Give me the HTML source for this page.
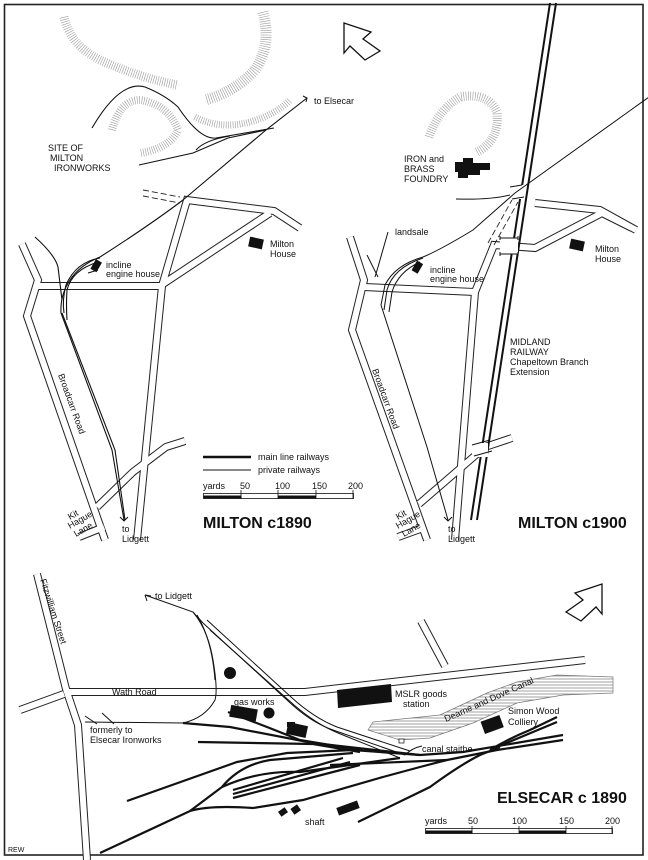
<!DOCTYPE html>
<html><head><meta charset="utf-8">
<style>
html,body{margin:0;padding:0;background:#fff;}
svg{display:block;}
text{font-family:"Liberation Sans",sans-serif;fill:#111;}
.s{font-size:9px;}
.t{font-size:16px;font-weight:bold;}
</style></head>
<body>
<svg width="648" height="860" viewBox="0 0 648 860" xmlns="http://www.w3.org/2000/svg">
<defs>
<pattern id="hz" width="4" height="3" patternUnits="userSpaceOnUse"><rect width="4" height="3" fill="#fff"/><line x1="0" y1="1" x2="4" y2="1" stroke="#888" stroke-width="0.8"/></pattern>
</defs>
<rect x="0" y="0" width="648" height="860" fill="#fff"/>
<rect x="4.5" y="4.5" width="638.5" height="850.5" fill="none" stroke="#222" stroke-width="1.6"/>

<!-- hachures -->
<g fill="none" stroke="#999" stroke-dasharray="0.6 1.7">
<path d="M64 17 Q70 45 100 60 Q140 78 178 85" stroke-width="9"/>
<path d="M263 12 Q272 45 255 70 Q235 92 205 100" stroke-width="11"/>
<path d="M112 130 Q120 100 140 100 Q168 104 178 130 Q170 148 141 153" stroke-width="8"/>
<path d="M195 117 Q220 130 250 122 Q275 115 290 100" stroke-width="7"/>
<path d="M429 137 Q438 110 460 97 Q488 92 497 112 Q500 140 477 152" stroke-width="9"/>
</g>

<!-- north arrows -->
<path d="M344 23 L344 53 L350 46 L365 60 L380 51 L363 39 L371 32 Z" fill="#fff" stroke="#111" stroke-width="1.3"/>
<path d="M602 584 L602 614 L596 607 L581 621 L566 612 L583 600 L575 593 Z" fill="#fff" stroke="#111" stroke-width="1.3"/>

<!-- ROADS -->
<g fill="none" stroke-linejoin="miter">
<g stroke="#222" stroke-width="8">
<path d="M22 244 L38 280 L27 316 L105 540"/>
<path d="M37 286 L162 286 L137 540"/>
<path d="M162 286 L187 200 L274 211 L300 228"/>
<path d="M163 284 L270 213"/>
<path d="M97 507 L133 472 L166 447 L185 441"/>
<path d="M79 537 L104 527"/>
<path d="M350 237 L364 280 L352 330 L427 540"/>
<path d="M364 287 L475 292 L455 540"/>
<path d="M475 292 L494 245 L535 248 L602 213 L632 228"/>
<path d="M535 203 L600 210 L636 230"/>
<path d="M419 504 L485 447 L512 438"/>
<path d="M398 537 L423 528"/>
<path d="M37 574 L66 689 L78 725 L87 860"/>
<path d="M66 692 L305 692 L585 660"/>
<path d="M64 694 L20 710"/>
<path d="M421 621 L445 666"/>
</g>
<g stroke="#fff" stroke-width="6">
<path d="M22 244 L38 280 L27 316 L105 540"/>
<path d="M37 286 L162 286 L137 540"/>
<path d="M162 286 L187 200 L274 211 L300 228"/>
<path d="M163 284 L270 213"/>
<path d="M97 507 L133 472 L166 447 L185 441"/>
<path d="M79 537 L104 527"/>
<path d="M350 237 L364 280 L352 330 L427 540"/>
<path d="M364 287 L475 292 L455 540"/>
<path d="M475 292 L494 245 L535 248 L602 213 L632 228"/>
<path d="M535 203 L600 210 L636 230"/>
<path d="M419 504 L485 447 L512 438"/>
<path d="M398 537 L423 528"/>
<path d="M37 574 L66 689 L78 725 L87 860"/>
<path d="M66 692 L305 692 L585 660"/>
<path d="M64 694 L20 710"/>
<path d="M421 621 L445 666"/>
</g>
</g>
<g stroke="#222" stroke-width="0.9" stroke-dasharray="6 3" fill="none">
<path d="M143 190 L180 197"/><path d="M143 196 L180 203"/>
<path d="M488 243 L512 200"/><path d="M494 245 L518 202"/>
</g>

<!-- LEFT PANEL RAILWAYS -->
<g fill="none" stroke="#111" stroke-width="1.1">
<path d="M92 128 Q120 80 145 87 Q165 95 178 107 Q200 140 216 138 L274 128"/>
<path d="M139 165 L193 153 L228 138 L266 130"/>
<path d="M196 150 Q205 140 230 136"/>
<path d="M307 98 L266 130 L183 200 Q150 225 100 257 Q80 265 70 280 Q60 295 61 313 L112 450 L124 520"/>
<path d="M100 258 Q76 262 66 285 Q62 300 64 313"/>
<path d="M98 262 Q72 270 67 290 Q66 305 67 320"/>
<path d="M35 237 Q55 255 58 267 L62 300"/>
<path d="M88 273 L98 270"/>
<path d="M62 313 L115 450 L125 520"/>
</g>
<path d="M303 96 L307 98 L306 102" fill="none" stroke="#111" stroke-width="1"/>
<path d="M120 517 L124 521 L128 517" fill="none" stroke="#111" stroke-width="1"/>
<rect x="93" y="260" width="7" height="11" fill="#111" transform="rotate(30 96 265)"/>
<rect x="249" y="238" width="14" height="10" fill="#111" transform="rotate(12 256 243)"/>

<!-- RIGHT PANEL -->
<g stroke="#111" fill="none">
<path d="M550 3 L471 520" stroke-width="2"/>
<path d="M556 3 L477 520" stroke-width="2"/>
</g>
<rect x="510" y="185" width="14" height="14" fill="#fff"/>
<rect x="500" y="238" width="18" height="16" fill="#fff"/>
<rect x="472" y="443" width="16" height="14" fill="#fff"/>
<g stroke="#111" stroke-width="1" fill="none">
<path d="M500 238 L518 238 M500 254 L518 254 M500 236 L500 240 M518 236 L518 240 M500 252 L500 256 M518 252 L518 256"/>
<path d="M472 445 L490 440 M474 456 L492 451"/>
<path d="M510 187 L522 185 M512 199 L524 197"/>
<path d="M649 97 L515 193 L473 230 Q440 250 423 257 Q395 265 385 285 L381 305 L390 333 L427 447 L448 520"/>
<path d="M456 199 Q490 200 510 195"/>
<path d="M388 232 L378 267 L375 277"/>
<path d="M367 255 L378 277"/>
<path d="M423 258 Q393 268 387 290 L384 310"/>
<path d="M420 262 Q398 272 392 292 L389 312"/>
<path d="M444 517 L448 521 L452 517"/>
</g>
<rect x="414" y="262" width="7" height="11" fill="#111" transform="rotate(30 418 267)"/>
<rect x="570" y="240" width="14" height="10" fill="#111" transform="rotate(12 577 245)"/>
<path d="M455 162 L463 162 L463 158 L473 158 L473 163 L490 163 L490 170 L480 170 L480 175 L468 175 L468 178 L458 178 L458 172 L455 172 Z" fill="#111"/>

<!-- LEGEND / SCALE -->
<line x1="203" y1="457" x2="251" y2="457" stroke="#111" stroke-width="2.4"/>
<line x1="203" y1="470" x2="251" y2="470" stroke="#111" stroke-width="0.9"/>
<text x="258" y="460" class="s">main line railways</text>
<text x="258" y="473" class="s">private railways</text>
<text x="203" y="489" class="s">yards</text>
<text x="240" y="489" class="s">50</text><text x="275" y="489" class="s">100</text><text x="312" y="489" class="s">150</text><text x="348" y="489" class="s">200</text>
<rect x="203.5" y="493.5" width="150" height="5" fill="none" stroke="#111" stroke-width="0.8"/>
<rect x="203.5" y="495.5" width="38" height="3" fill="#111"/>
<rect x="278" y="495.5" width="38" height="3" fill="#111"/>
<g stroke="#111" stroke-width="0.8"><line x1="241" y1="490" x2="241" y2="499"/><line x1="278" y1="490" x2="278" y2="499"/><line x1="316" y1="490" x2="316" y2="499"/><line x1="353" y1="490" x2="353" y2="499"/></g>

<!-- ELSECAR tracks -->
<g fill="none" stroke="#111" stroke-width="1">
<path d="M145 595 L193 612 L203 623"/>
<path d="M193 612 Q208 630 213 660 Q218 690 215 700 Q205 718 183 723 L85 722"/>
<path d="M197 615 Q212 640 215 680"/>
<path d="M85 716 L97 724 M102 713 L114 724"/>
<path d="M203 623 L287 700 Q310 722 333 730 L405 755"/>
<path d="M207 620 L291 697 Q314 718 337 727 L410 751"/>
<path d="M210 630 L294 705 Q316 724 338 733 L400 758"/>
<path d="M405 755 Q412 748 422 746"/>
</g>
<path d="M145 595 L147 601 M145 595 L151 596" stroke="#111" stroke-width="1" fill="none"/>
<g fill="none" stroke="#111" stroke-width="2.2">
<path d="M183 723 L230 727 L313 743 L420 755"/>
<path d="M228 712 L267 727 L300 740 L360 750"/>
<path d="M198 742 L313 744 L360 752"/>
<path d="M127 801 L237 762 L287 753 L353 750 L420 755 L463 752 L563 735"/>
<path d="M190 811 L222 787 Q240 765 270 760 L353 753"/>
<path d="M100 853 L190 811 Q210 805 253 808 L303 800 L383 777 L420 767 L447 760 L497 750 L563 740"/>
<path d="M233 790 L343 758"/>
<path d="M233 794 L350 762"/>
<path d="M233 798 L360 765"/>
<path d="M222 787 Q260 770 300 772 L400 758"/>
<path d="M490 750 Q510 738 530 730 L557 717"/>
<path d="M497 747 L557 722"/>
<path d="M358 822 L430 787 Q460 765 480 755 L500 747"/>
<path d="M330 765 L447 760"/>
</g>
<circle cx="230" cy="673" r="6" fill="#111"/>
<circle cx="269" cy="713" r="5.5" fill="#111"/>
<rect x="230" y="707" width="27" height="12" fill="#111" transform="rotate(10 243 713)"/>
<rect x="287" y="724" width="20" height="12" fill="#111" transform="rotate(12 297 730)"/>
<rect x="287" y="722" width="8" height="5" fill="#111"/>
<path d="M337 690 L391 684 L392 702 L338 708 Z" fill="#111"/>
<rect x="482" y="718" width="20" height="13" fill="#111" transform="rotate(-20 492 724)"/>
<rect x="279" y="809" width="8" height="6" fill="#111" transform="rotate(-35 283 812)"/>
<rect x="292" y="806" width="8" height="7" fill="#111" transform="rotate(-35 296 810)"/>
<rect x="337" y="804" width="22" height="8" fill="#111" transform="rotate(-20 348 808)"/>
<path d="M368 730 L373 722 L440 715 L487 693 L517 682 L557 675 L613 677 L613 693 L563 695 L517 703 L473 723 L430 738 L400 740 Z" fill="url(#hz)" stroke="#777" stroke-width="0.7"/>
<rect x="399" y="739" width="5" height="4" fill="#fff" stroke="#111" stroke-width="0.7"/>

<text x="425" y="824" class="s">yards</text>
<text x="468" y="824" class="s">50</text><text x="512" y="824" class="s">100</text><text x="559" y="824" class="s">150</text><text x="605" y="824" class="s">200</text>
<rect x="425.5" y="828.5" width="187" height="5" fill="none" stroke="#111" stroke-width="0.8"/>
<rect x="425.5" y="830.5" width="47" height="3" fill="#111"/>
<rect x="519" y="830.5" width="47" height="3" fill="#111"/>
<g stroke="#111" stroke-width="0.8"><line x1="472" y1="826" x2="472" y2="834"/><line x1="519" y1="826" x2="519" y2="834"/><line x1="566" y1="826" x2="566" y2="834"/><line x1="612" y1="826" x2="612" y2="834"/></g>

<!-- LABELS -->
<text x="314" y="104" class="s">to Elsecar</text>
<text x="48" y="151" class="s">SITE OF</text>
<text x="50" y="161" class="s">MILTON</text>
<text x="54" y="171" class="s">IRONWORKS</text>
<text x="106" y="268" class="s">incline</text>
<text x="106" y="277" class="s">engine house</text>
<text x="270" y="247" class="s">Milton</text>
<text x="270" y="257" class="s">House</text>
<text class="s" transform="translate(58,375) rotate(70)">Broadcarr  Road</text>
<text class="s" transform="translate(372,370) rotate(70)">Broadcarr  Road</text>
<text class="s" transform="translate(70,520) rotate(-30)">Kit</text>
<text class="s" transform="translate(70,529) rotate(-30)">Hague</text>
<text class="s" transform="translate(76,537) rotate(-30)">Lane</text>
<text class="s" transform="translate(398,520) rotate(-30)">Kit</text>
<text class="s" transform="translate(398,529) rotate(-30)">Hague</text>
<text class="s" transform="translate(404,537) rotate(-30)">Lane</text>
<text x="122" y="532" class="s">to</text>
<text x="122" y="542" class="s">Lidgett</text>
<text x="448" y="532" class="s">to</text>
<text x="448" y="542" class="s">Lidgett</text>
<text x="203" y="528" class="t">MILTON  c1890</text>
<text x="518" y="528" class="t">MILTON  c1900</text>
<text x="404" y="162" class="s">IRON and</text>
<text x="404" y="172" class="s">BRASS</text>
<text x="404" y="182" class="s">FOUNDRY</text>
<text x="395" y="235" class="s">landsale</text>
<text x="430" y="273" class="s">incline</text>
<text x="430" y="282" class="s">engine house</text>
<text x="595" y="252" class="s">Milton</text>
<text x="595" y="262" class="s">House</text>
<text x="510" y="345" class="s">MIDLAND</text>
<text x="510" y="355" class="s">RAILWAY</text>
<text x="510" y="365" class="s">Chapeltown Branch</text>
<text x="510" y="375" class="s">Extension</text>
<text x="155" y="599" class="s">to Lidgett</text>
<text class="s" transform="translate(40,580) rotate(72)">Fitzwilliam  Street</text>
<text x="112" y="695" class="s">Wath   Road</text>
<text x="234" y="705" class="s">gas works</text>
<text x="90" y="733" class="s">formerly  to</text>
<text x="90" y="743" class="s">Elsecar Ironworks</text>
<text x="395" y="697" class="s">MSLR goods</text>
<text x="403" y="707" class="s">station</text>
<text x="508" y="714" class="s">Simon Wood</text>
<text x="508" y="725" class="s">Colliery</text>
<text x="422" y="752" class="s">canal staithe</text>
<text class="s" transform="translate(446,722) rotate(-24)">Dearne  and  Dove  Canal</text>
<text x="305" y="825" class="s">shaft</text>
<text x="497" y="803" class="t">ELSECAR  c 1890</text>
<text x="8" y="852" style="font-size:7px">REW</text>
</svg>
</body></html>
